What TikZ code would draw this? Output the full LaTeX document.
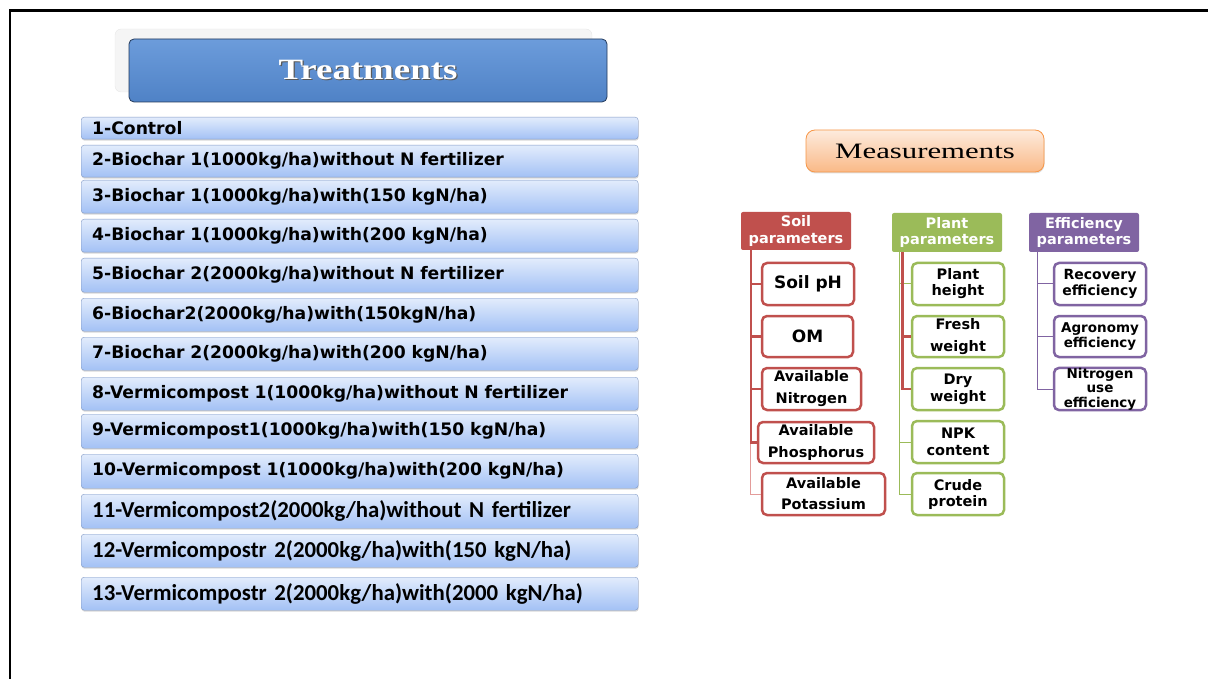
\documentclass[tikz,border=0pt]{standalone}
\usepackage{fontspec}
\setmainfont{DejaVu Sans}
\newfontfamily\calfont{Carlito}
\newfontfamily\treatfont[FakeStretch=1.25]{Liberation Serif}
\newfontfamily\measfont[FakeStretch=1.4]{Liberation Serif}
\usepackage{tikz}
\usetikzlibrary{shapes,shadows,positioning}
\definecolor{treattop}{HTML}{E2ECFC}
\definecolor{treatbot}{HTML}{A3C1F5}
\definecolor{treatline}{HTML}{8098C4}
\definecolor{headtop}{HTML}{6C9CDB}
\definecolor{headbot}{HTML}{4F82C6}
\definecolor{headline}{HTML}{23395A}
\definecolor{meastop}{HTML}{FDEBDD}
\definecolor{measbot}{HTML}{FAB987}
\definecolor{measline}{HTML}{F79646}
\definecolor{soilred}{HTML}{C0504D}
\definecolor{soillight}{HTML}{E39C9A}
\definecolor{plantgreen}{HTML}{9BBB59}
\definecolor{effpurple}{HTML}{8064A2}
\tikzstyle{treatblock}=[rectangle, rounded corners=3pt, draw=treatline, top color=treattop, bottom color=treatbot, anchor=north west, text width=535pt, inner xsep=11pt, inner ysep=0pt, align=left, font=\bfseries\fontsize{17.2}{19}\selectfont, drop shadow={shadow xshift=0.5pt, shadow yshift=-1.5pt, opacity=0.3}]
\tikzstyle{treathead}=[rectangle, rounded corners=5pt, draw=headline, thick, top color=headtop, bottom color=headbot, minimum width=478pt, minimum height=63pt, text=white, font=\treatfont\bfseries\fontsize{29.5}{32}\selectfont]
\tikzstyle{measblock}=[rectangle, rounded corners=9pt, draw=measline, thick, top color=meastop, bottom color=measbot, minimum width=238pt, minimum height=42pt, font=\measfont\fontsize{22}{24}\selectfont, drop shadow={shadow xshift=0.5pt, shadow yshift=-1.5pt, opacity=0.25}]
\tikzstyle{parhead}=[rectangle, rounded corners=2pt, text=white, align=center, minimum width=110pt, minimum height=39pt, inner sep=0pt, font=\bfseries\fontsize{14.5}{17}\selectfont]
\tikzstyle{paritem}=[rectangle, rounded corners=5pt, line width=2.5pt, fill=white, align=center, minimum height=42pt, inner sep=0pt, font=\bfseries\fontsize{14.5}{16}\selectfont]
\tikzstyle{soilwire}=[draw=soilred, line width=2.5pt]
\tikzstyle{soilthin}=[draw=soillight, line width=1pt]
\tikzstyle{plantwire}=[draw=plantgreen, line width=1pt]
\tikzstyle{effwire}=[draw=effpurple, line width=1pt]

\begin{document}
\begin{tikzpicture}[x=1pt, y=-1pt]
\useasboundingbox (0,0) rectangle (1208,679);

\draw[line width=2.5pt, line join=miter] (10,679) -- (10,10.5) -- (1208,10.5);

\path[fill=black!4, draw=black!9, rounded corners=6pt] (115,29) rectangle (592,92);
\node[treathead] (treat) at (368,70.5) {\makebox[0pt][l]{\raisebox{-1.2pt}{\hspace{1.2pt}\textcolor{black!65}{Treatments}}}Treatments};

\node[treatblock, minimum height=22pt] (t1) at (81,117) {1-Control};
\node[treatblock, minimum height=32pt] (t2) at (81,145) {2-Biochar 1(1000kg/ha)without N fertilizer};
\node[treatblock, minimum height=33pt] (t3) at (81,180) {3-Biochar 1(1000kg/ha)with(150 kgN/ha)};
\node[treatblock, minimum height=33pt] (t4) at (81,219) {4-Biochar 1(1000kg/ha)with(200 kgN/ha)};
\node[treatblock, minimum height=34pt] (t5) at (81,258) {5-Biochar 2(2000kg/ha)without N fertilizer};
\node[treatblock, minimum height=33pt] (t6) at (81,298) {6-Biochar2(2000kg/ha)with(150kgN/ha)};
\node[treatblock, minimum height=33pt] (t7) at (81,337) {7-Biochar 2(2000kg/ha)with(200 kgN/ha)};
\node[treatblock, minimum height=33pt] (t8) at (81,377) {8-Vermicompost 1(1000kg/ha)without N fertilizer};
\node[treatblock, minimum height=34pt] (t9) at (81,414) {9-Vermicompost1(1000kg/ha)with(150 kgN/ha)};
\node[treatblock, minimum height=34pt] (t10) at (81,454) {10-Vermicompost 1(1000kg/ha)with(200 kgN/ha)};
\node[treatblock, minimum height=34pt, font=\calfont\bfseries\fontsize{22.8}{24}\selectfont] (t11) at (81,494) {11-Vermicompost2(2000kg/ha)without N fertilizer};
\node[treatblock, minimum height=33pt, font=\calfont\bfseries\fontsize{22.8}{24}\selectfont] (t12) at (81,534) {12-Vermicompostr 2(2000kg/ha)with(150 kgN/ha)};
\node[treatblock, minimum height=33pt, font=\calfont\bfseries\fontsize{22.8}{24}\selectfont] (t13) at (81,577) {13-Vermicompostr 2(2000kg/ha)with(2000 kgN/ha)};

\node[measblock] (meas) at (925,151) {Measurements};

\node[parhead, fill=soilred, minimum height=38pt] (soil) at (796,231) {Soil\\parameters};
\node[parhead, fill=plantgreen] (plant) at (947,232.5) {Plant\\parameters};
\node[parhead, fill=effpurple] (eff) at (1084,232.5) {Efficiency\\parameters};

\node[paritem, draw=soilred, minimum width=92pt, font=\bfseries\fontsize{17}{19}\selectfont] (soilph) at (808,284) {Soil pH};
\node[paritem, draw=soilred, minimum width=91pt, minimum height=41pt, font=\bfseries\fontsize{17}{19}\selectfont] (om) at (807.5,336.5) {OM};
\node[paritem, draw=soilred, minimum width=99pt] (nitrogen) at (811.5,389) {Available\\[6pt]Nitrogen};
\node[paritem, draw=soilred, minimum width=116pt, minimum height=41pt] (phosphorus) at (816,442.5) {Available\\[6pt]Phosphorus};
\node[paritem, draw=soilred, minimum width=123pt] (potassium) at (823.5,494) {Available\\[5pt]Potassium};

\node[paritem, draw=plantgreen, minimum width=92pt] (height) at (958,284) {Plant\\height};
\node[paritem, draw=plantgreen, minimum width=92pt, minimum height=41pt] (fresh) at (958,336.5) {Fresh\\[6pt]weight};
\node[paritem, draw=plantgreen, minimum width=92pt] (dry) at (958,389) {Dry\\[1pt]weight};
\node[paritem, draw=plantgreen, minimum width=92pt] (npk) at (958,442) {NPK\\[1pt]content};
\node[paritem, draw=plantgreen, minimum width=92pt] (crude) at (958,494) {Crude\\protein};

\node[paritem, draw=effpurple, minimum width=92pt, font=\bfseries\fontsize{14}{16}\selectfont] (recovery) at (1100,284) {Recovery\\efficiency};
\node[paritem, draw=effpurple, minimum width=92pt, minimum height=41pt, font=\bfseries\fontsize{13.5}{15}\selectfont] (agronomy) at (1100,336.5) {Agronomy\\efficiency};
\node[paritem, draw=effpurple, minimum width=92pt, font=\bfseries\fontsize{13.5}{14.5}\selectfont] (nue) at (1100,389) {Nitrogen\\use\\efficiency};

\draw[soilthin] ([xshift=10pt]soil.south west) |- (potassium.west);
\draw[soilwire] ([xshift=10pt]soil.south west) |- (soilph.west);
\draw[soilwire] ([xshift=10pt]soil.south west) |- (om.west);
\draw[soilwire] ([xshift=10pt]soil.south west) |- (nitrogen.west);
\draw[soilwire] ([xshift=10pt]soil.south west) |- (phosphorus.west);

\draw[plantwire] ([xshift=8pt]plant.south west) |- (height.west);
\draw[plantwire] ([xshift=8pt]plant.south west) |- (npk.west);
\draw[plantwire] ([xshift=8pt]plant.south west) |- (crude.west);
\draw[soilwire] ([xshift=10.5pt]plant.south west) |- (fresh.west);
\draw[soilwire] ([xshift=10.5pt]plant.south west) |- (dry.west);

\draw[effwire] ([xshift=9pt]eff.south west) |- (recovery.west);
\draw[effwire] ([xshift=9pt]eff.south west) |- (agronomy.west);
\draw[effwire] ([xshift=9pt]eff.south west) |- (nue.west);

\end{tikzpicture}
\end{document}
